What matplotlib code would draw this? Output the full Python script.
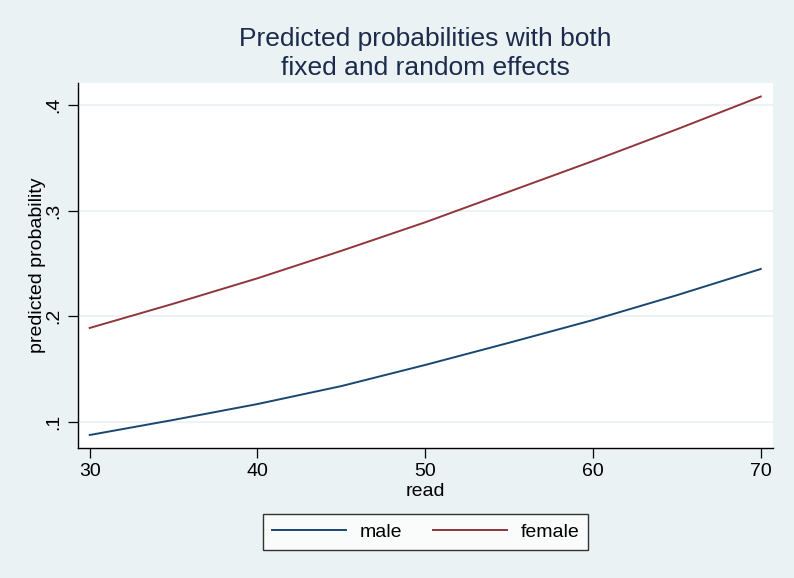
import matplotlib.pyplot as plt
import numpy as np

# predicted probabilities
read = [30, 35, 40, 45, 50, 55, 60, 65, 70]
male = [0.0877, 0.102, 0.117, 0.134, 0.154, 0.175, 0.1965, 0.220, 0.2448]
female = [0.189, 0.212, 0.236, 0.262, 0.289, 0.318, 0.347, 0.377, 0.408]
yticks = [0.1, 0.2, 0.3, 0.4]
ytick_labels = [".1", ".2", ".3", ".4"]
xticks = [30, 40, 50, 60, 70]

bg = "#eaf2f3"
plt.rcParams['font.family'] = ['Liberation Sans', 'DejaVu Sans']

fig = plt.figure(figsize=(7.94, 5.78), dpi=100, facecolor=bg)
ax = fig.add_axes([78/794, 130/578, 695/794, 365/578])
ax.set_facecolor("white")

ax.plot(read, male, color="#1a476f", linewidth=1.4, label="male")
ax.plot(read, female, color="#90353b", linewidth=1.4, label="female")

ax.set_xlim(29.3, 70.73)
ax.set_ylim(0.0754, 0.4208)
ax.set_xticks(xticks)
ax.set_yticks(yticks)
ax.set_yticklabels(ytick_labels, rotation=90, va="center")
ax.tick_params(axis="both", labelsize=14, length=7, width=0.9, direction="out", pad=4)
ax.grid(axis="y", color=bg, linewidth=1.3)
ax.set_axisbelow(True)
for s in ["top", "right"]:
    ax.spines[s].set_visible(False)
for s in ["left", "bottom"]:
    ax.spines[s].set_linewidth(1.0)

ax.set_xlabel("read", fontsize=14, labelpad=2)
ax.set_ylabel("predicted probability", fontsize=14, labelpad=0)
ax.set_title("Predicted probabilities with both\nfixed and random effects",
             fontsize=19, color="#1c2b4b", pad=6, linespacing=1.25)

leg = ax.legend(loc="center", bbox_to_anchor=(0.5, -0.23), ncol=2, fontsize=14,
                frameon=True, fancybox=False, handlelength=3.8, handletextpad=0.7,
                columnspacing=1.6, borderpad=0.45)
leg.get_frame().set_edgecolor("black")
leg.get_frame().set_linewidth(1.0)

plt.savefig("out.png", dpi=100, facecolor=bg)
